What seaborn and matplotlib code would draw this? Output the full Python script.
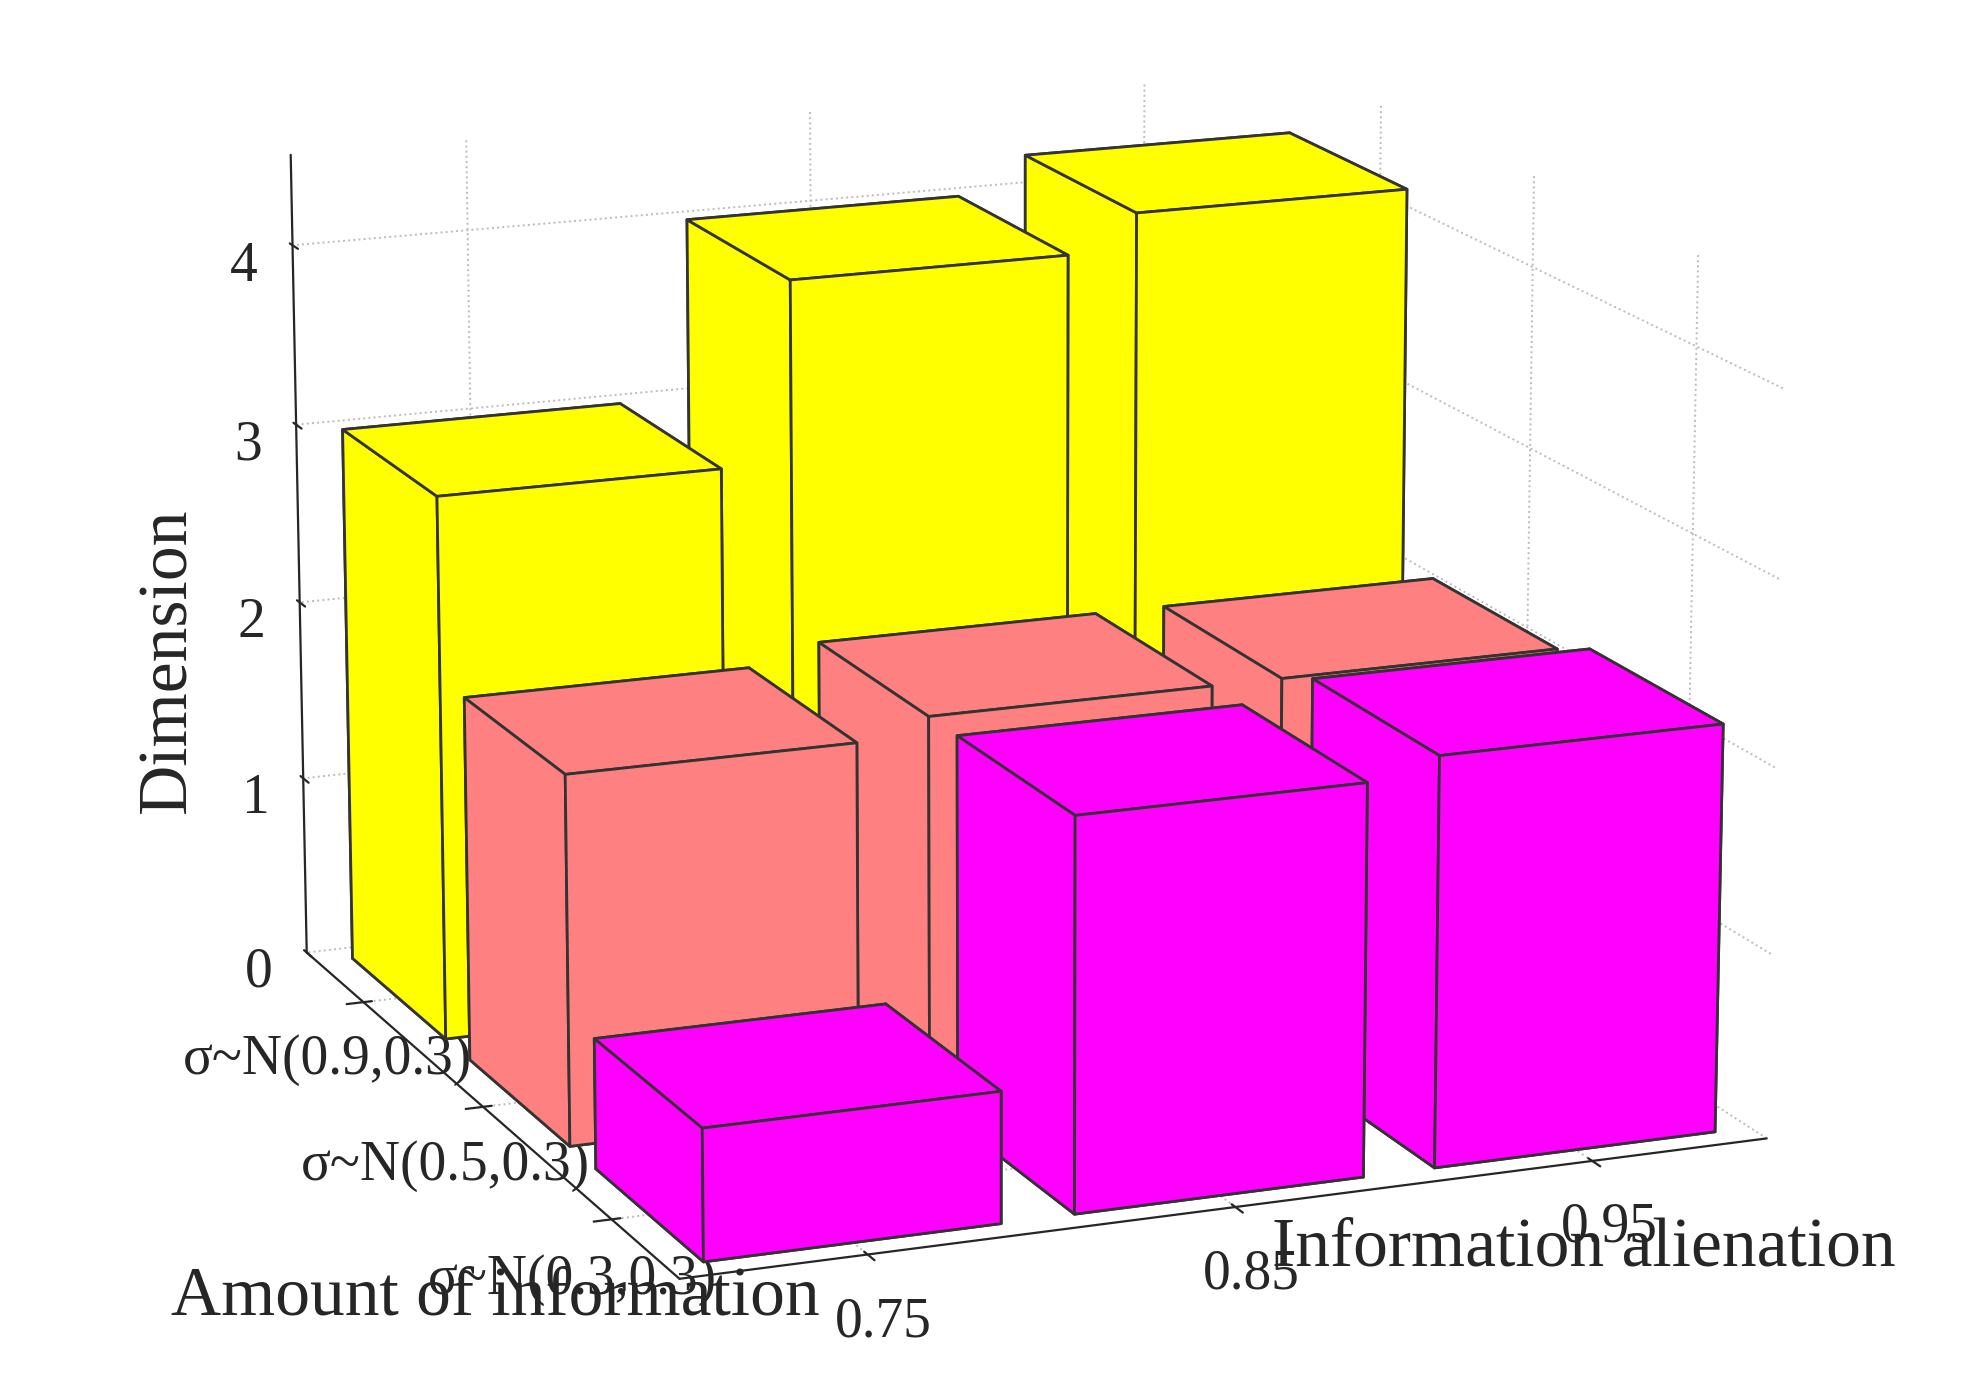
import numpy as np
import matplotlib
matplotlib.use("Agg")
import matplotlib.pyplot as plt
import seaborn as sns

sns.set_style("white")
plt.rcParams["font.family"] = ["Liberation Serif", "DejaVu Serif"]

amount_labels = ["σ~N(0.9,0.3)", "σ~N(0.5,0.3)", "σ~N(0.3,0.3)"]
alienation_labels = ["0.75", "0.85", "0.95"]
colors = ["#ffff00", "#ff8080", "#ff00ff"]
# rows: amount of information, columns: information alienation
dimension = [
    [3.0, 4.0, 4.2],
    [2.0, 2.1, 2.1],
    [0.7, 2.1, 2.2],
]

fig = plt.figure(figsize=(9.9, 6.88), dpi=200)
ax = fig.add_subplot(111, projection="3d")
ax.set_position([-0.08, -0.12, 1.16, 1.28])

w = 0.8
for i, row in enumerate(dimension):
    for j, h in enumerate(row):
        ax.bar3d(i + 1 - w / 2, j + 1 - w / 2, 0, w, w, h, color=colors[i],
                 edgecolor="#333333", linewidth=1.0, shade=False)

ax.set_xlim(0.5, 3.5)
ax.set_ylim(0.5, 3.5)
ax.set_zlim(0, 4.5)
ax.set_xticks([1, 2, 3])
ax.set_xticklabels(amount_labels, fontsize=20)
ax.set_yticks([1, 2, 3])
ax.set_yticklabels(alienation_labels, fontsize=20)
ax.set_zticks([0, 1, 2, 3, 4])
ax.tick_params(axis="z", labelsize=20)
ax.zaxis._axinfo["juggled"] = (1, 2, 0)

for a in (ax.xaxis, ax.yaxis, ax.zaxis):
    a.set_pane_color((1, 1, 1, 0))
    a._axinfo["grid"].update(color="#bbbbbb", linestyle=":", linewidth=0.7)
ax.view_init(elev=15, azim=-22)

fig.text(0.25, 0.045, "Amount of information", fontsize=25, ha="center")
fig.text(0.8, 0.08, "Information alienation", fontsize=25, ha="center")
fig.text(0.085, 0.52, "Dimension", fontsize=25, ha="center", va="center", rotation=90)

fig.savefig("out.png", dpi=200)
